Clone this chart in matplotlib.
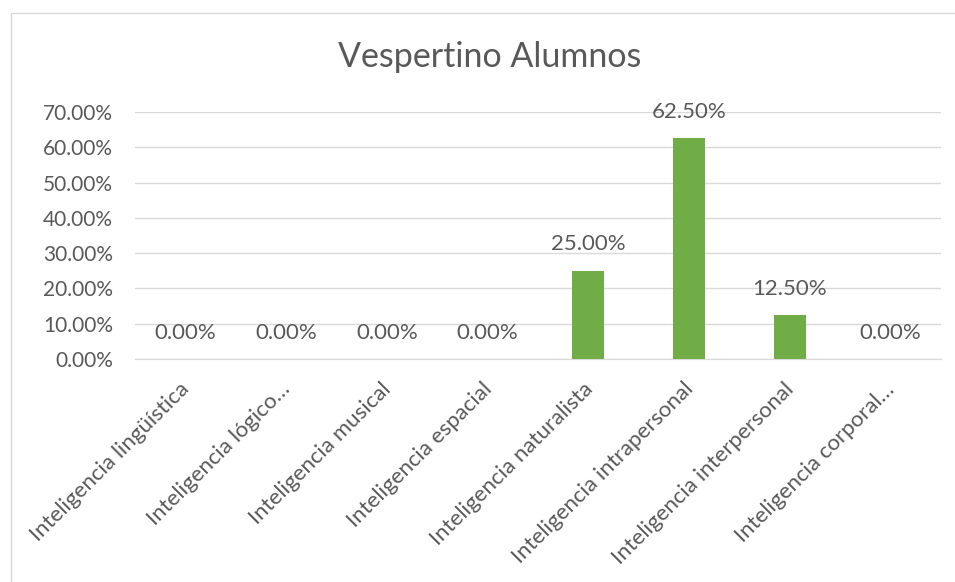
import matplotlib
matplotlib.use("Agg")
import matplotlib.pyplot as plt
from matplotlib.patches import Rectangle
from matplotlib.ticker import FuncFormatter, MultipleLocator
from matplotlib.transforms import ScaledTranslation

categories = ["Inteligencia lingüística", "Inteligencia lógico…", "Inteligencia musical",
              "Inteligencia espacial", "Inteligencia naturalista", "Inteligencia intrapersonal",
              "Inteligencia interpersonal", "Inteligencia corporal…"]
values = [0.0, 0.0, 0.0, 0.0, 0.25, 0.625, 0.125, 0.0]
title = "Vespertino Alumnos"

plt.rcParams['font.family'] = ['Lato', 'DejaVu Sans']
txt = '#595959'

W, H = 955, 582
fig = plt.figure(figsize=(W/100, H/100), dpi=100)
fig.patch.set_facecolor('white')
# chart border
fig.add_artist(Rectangle((11/W, -0.01), 1.0, (H-13)/H + 0.01, transform=fig.transFigure,
                         fill=False, edgecolor='#D9D9D9', linewidth=1.0))

left, right, top, bottom = 135, 941, 112, 359
ax = fig.add_axes([left/W, 1-bottom/H, (right-left)/W, (bottom-top)/H])
x = list(range(len(categories)))
ax.bar(x, values, width=0.32, color='#70AD47', zorder=3)
ax.set_xlim(-0.5, len(categories)-0.5)
ax.set_ylim(0, 0.70)
ax.yaxis.set_major_locator(MultipleLocator(0.10))
ax.yaxis.set_major_formatter(FuncFormatter(lambda v, p: f"{v*100:.2f}%"))
ax.grid(axis='y', color='#D9D9D9', linewidth=1.0, zorder=0)
for s in ['top', 'right', 'left']:
    ax.spines[s].set_visible(False)
ax.spines['bottom'].set_color('#D9D9D9')
ax.tick_params(axis='both', length=0, colors=txt)
ax.tick_params(axis='y', pad=16, labelsize=15)
ax.set_xticks(x)
ax.set_xticklabels([])

# category labels, rotated 45 degrees, ending just below each category centre
trans = ax.get_xaxis_transform() + ScaledTranslation(-6/100, -20/100, fig.dpi_scale_trans)
for xi, lab in zip(x, categories):
    ax.text(xi, 0, lab, transform=trans, rotation=45, rotation_mode='anchor',
            ha='right', va='top', fontsize=16, color=txt, clip_on=False)

for xi, v in zip(x, values):
    ax.annotate(f"{v*100:.2f}%", (xi, v), xytext=(0, 19), textcoords='offset points',
                ha='center', va='center', fontsize=16, color=txt)

fig.text(490/W, 1-57/H, title, ha='center', va='center', fontsize=24.5, color=txt)

fig.savefig("out.png", dpi=100, facecolor='white')
